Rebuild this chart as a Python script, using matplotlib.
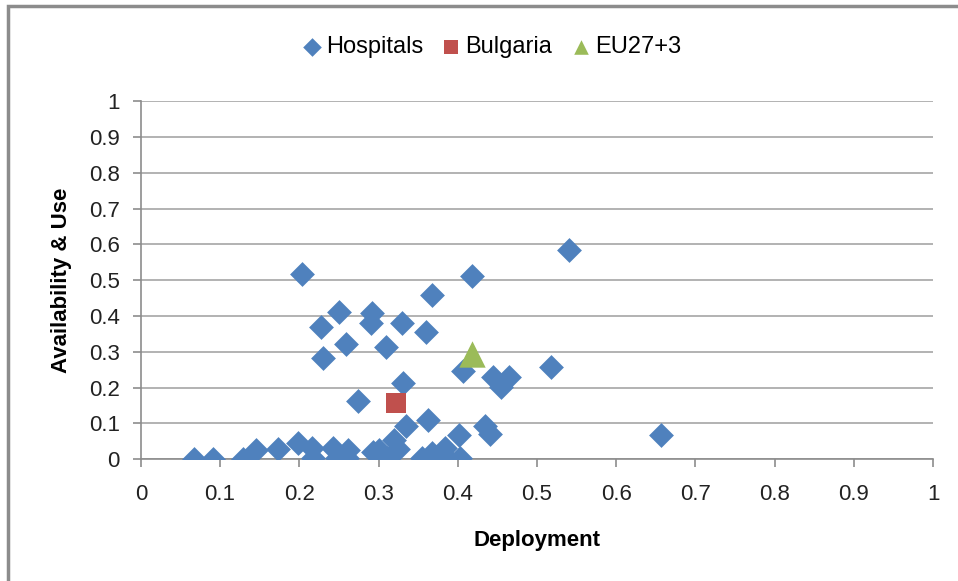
import matplotlib
matplotlib.use("Agg")
import matplotlib.pyplot as plt
from matplotlib.patches import Rectangle

# Hospital scores
hosp_deploy = [0.067, 0.091, 0.129, 0.145, 0.173, 0.198, 0.204, 0.216, 0.217, 0.228,
               0.230, 0.250, 0.259, 0.243, 0.248, 0.262, 0.260, 0.274, 0.292, 0.291,
               0.293, 0.300, 0.310, 0.311, 0.319, 0.324, 0.330, 0.331, 0.335, 0.355,
               0.360, 0.362, 0.368, 0.368, 0.384, 0.386, 0.402, 0.403, 0.407, 0.418,
               0.435, 0.441, 0.444, 0.454, 0.465, 0.518, 0.540, 0.656]
hosp_use = [0.0, 0.0, 0.0, 0.026, 0.029, 0.046, 0.518, 0.032, 0.004, 0.370,
            0.283, 0.412, 0.322, 0.032, 0.004, 0.026, 0.004, 0.163, 0.409, 0.381,
            0.020, 0.026, 0.314, 0.004, 0.054, 0.029, 0.381, 0.213, 0.093, 0.004,
            0.356, 0.110, 0.459, 0.018, 0.032, 0.004, 0.069, 0.004, 0.247, 0.512,
            0.093, 0.071, 0.230, 0.202, 0.230, 0.258, 0.584, 0.069]
bulgaria = (0.322, 0.157)
eu = (0.418, 0.293)

ticks = [0, 0.1, 0.2, 0.3, 0.4, 0.5, 0.6, 0.7, 0.8, 0.9, 1]
tick_labels = ["0", "0.1", "0.2", "0.3", "0.4", "0.5", "0.6", "0.7", "0.8", "0.9", "1"]

plt.rcParams["font.family"] = ["Liberation Sans", "DejaVu Sans"]

fig = plt.figure(figsize=(9.58, 5.81), dpi=100)
ax = fig.add_axes([0.147, 0.2095, 0.827, 0.6165])

ax.scatter(hosp_deploy, hosp_use, marker="D", s=160, color="#4F81BD",
           linewidths=0, label="Hospitals", zorder=3)
ax.scatter([bulgaria[0]], [bulgaria[1]], marker="s", s=220, color="#C0504D",
           linewidths=0, label="Bulgaria", zorder=4)
ax.scatter([eu[0]], [eu[1]], marker="^", s=360, color="#9BBB59",
           linewidths=0, label="EU27+3", zorder=4)

ax.set_xlim(0, 1)
ax.set_ylim(0, 1)
ax.set_xticks(ticks)
ax.set_xticklabels(tick_labels)
ax.set_yticks(ticks)
ax.set_yticklabels(tick_labels)
ax.yaxis.grid(True, color="#A6A6A6", linewidth=1.2)
ax.set_axisbelow(True)

for side in ["top", "right"]:
    ax.spines[side].set_visible(False)
for side in ["left", "bottom"]:
    ax.spines[side].set_color("#8C8C8C")
    ax.spines[side].set_linewidth(1.2)
ax.tick_params(axis="both", direction="out", length=6, width=1.2, color="#8C8C8C",
               labelsize=16, labelcolor="#222222")
ax.tick_params(axis="y", pad=9)
ax.tick_params(axis="x", pad=12)

ax.set_xlabel("Deployment", fontsize=16, fontweight="bold", labelpad=18)
ax.set_ylabel("Availability & Use", fontsize=16, fontweight="bold", labelpad=12)

leg = fig.legend(loc="center", bbox_to_anchor=(0.512, 0.919), ncol=3, frameon=False,
                 fontsize=17, handletextpad=0.1, columnspacing=0.7,
                 handlelength=1.0)
for h, sz in zip(leg.legend_handles, [90, 110, 110]):
    h.set_sizes([sz])

# outer chart border
fig.patches.append(Rectangle((8 / 958, -0.05), 1.1, 1 - 6 / 581 + 0.05,
                             transform=fig.transFigure, fill=False,
                             edgecolor="#8C8C8C", linewidth=2.5))

fig.savefig("out.png", dpi=100)
